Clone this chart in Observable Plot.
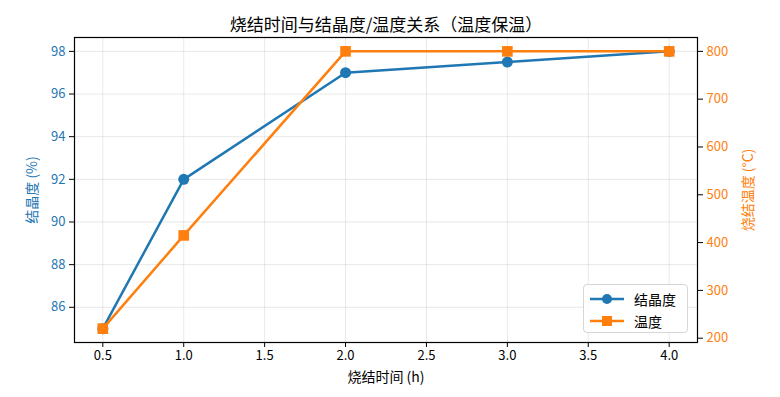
<!DOCTYPE html>
<html><head><meta charset="utf-8">
<script src="https://cdn.jsdelivr.net/npm/d3@7"></script>
<script src="https://cdn.jsdelivr.net/npm/@observablehq/plot@0.6"></script>
<style>
body{margin:0;background:#fff;font-family:"Noto Sans CJK SC",sans-serif}
#wrap{position:relative;width:780px;height:397px}
#legend{position:absolute;left:583px;top:284px;width:105px;height:49px;box-sizing:border-box;border:1px solid #d6d6d6;border-radius:4px;background:rgba(255,255,255,0.85);font-size:14px;color:#000}
#legend .row{display:flex;align-items:center;height:22px;padding-left:6px}
#legend .row:first-child{margin-top:3px}
#legend svg{margin-right:10px}
</style>
</head><body><div id="wrap"></div>
<script>
const titleText = "烧结时间与结晶度/温度关系（温度保温）";
const xLabel = "烧结时间 (h)";
const leftLabel = "结晶度 (%)";
const rightLabel = "烧结温度 (°C)";
const seriesNames = ["结晶度", "温度"];
const times = [0.5, 1.0, 2.0, 3.0, 4.0];
const crystallinity = [85, 92, 97, 97.5, 98];
const temperature = [220, 415, 800, 800, 800];
const xTicks = [0.5, 1.0, 1.5, 2.0, 2.5, 3.0, 3.5, 4.0];
const leftTicks = [86, 88, 90, 92, 94, 96, 98];
const rightTicks = [200, 300, 400, 500, 600, 700, 800];

const blue = "#1f77b4", orange = "#ff7f0e";
const cDom = [84.35, 98.65], tDom = [191, 829];
const toC = t => cDom[0] + (t - tDom[0]) * (cDom[1] - cDom[0]) / (tDom[1] - tDom[0]);
const fromC = c => tDom[0] + (c - cDom[0]) * (tDom[1] - tDom[0]) / (cDom[1] - cDom[0]);

const cData = times.map((x, i) => ({x, y: crystallinity[i]}));
const tData = times.map((x, i) => ({x, y: toC(temperature[i])}));

const chart = Plot.plot({
  width: 780, height: 397,
  marginLeft: 74, marginRight: 83, marginTop: 37, marginBottom: 55,
  style: {fontFamily: '"Noto Sans CJK SC", sans-serif', fontSize: "13px", background: "#fff"},
  x: {domain: [0.325, 4.175]},
  y: {domain: cDom},
  marks: [
    Plot.gridX(xTicks, {stroke: "#b0b0b0", strokeOpacity: 0.35, strokeWidth: 0.8}),
    Plot.gridY(leftTicks, {stroke: "#b0b0b0", strokeOpacity: 0.35, strokeWidth: 0.8}),
    Plot.frame({stroke: "#000", strokeWidth: 1.2}),
    Plot.axisX(xTicks, {tickFormat: d => d.toFixed(1), tickSize: 5, tickPadding: 3, fontSize: 13, label: null}),
    Plot.axisY(leftTicks, {anchor: "left", tickSize: 5, tickPadding: 4, fontSize: 13, fill: blue, label: null}),
    Plot.axisY(rightTicks.map(toC), {anchor: "right", tickSize: 5, tickPadding: 4, fontSize: 13, fill: orange, label: null, tickFormat: d => String(Math.round(fromC(d)))}),
    Plot.line(cData, {x: "x", y: "y", stroke: blue, strokeWidth: 2.5}),
    Plot.dot(cData, {x: "x", y: "y", r: 5.5, fill: blue, stroke: "none"}),
    Plot.line(tData, {x: "x", y: "y", stroke: orange, strokeWidth: 2.5}),
    Plot.dot(tData, {x: "x", y: "y", r: 6, symbol: "square", fill: orange, stroke: "none"}),
    Plot.text([titleText], {frameAnchor: "top", dy: -19, fontSize: 17, fill: "#000"}),
    Plot.text([xLabel], {frameAnchor: "bottom", dy: 39, fontSize: 14, fill: "#000"}),
    Plot.text([leftLabel], {frameAnchor: "left", textAnchor: "middle", dx: -42, rotate: -90, fontSize: 14, fill: blue}),
    Plot.text([rightLabel], {frameAnchor: "right", textAnchor: "middle", dx: 51, rotate: -90, fontSize: 14, fill: orange})
  ]
});
const wrap = document.getElementById("wrap");
wrap.appendChild(chart);

const legend = document.createElement("div");
legend.id = "legend";
const colors = [blue, orange];
seriesNames.forEach((name, i) => {
  const row = document.createElement("div");
  row.className = "row";
  const marker = i === 0
    ? `<circle cx="17" cy="6" r="5" fill="${colors[i]}"/>`
    : `<rect x="12" y="1" width="10" height="10" fill="${colors[i]}"/>`;
  row.innerHTML = `<svg width="34" height="12"><line x1="0" y1="6" x2="34" y2="6" stroke="${colors[i]}" stroke-width="2.5"/>${marker}</svg><span>${name}</span>`;
  legend.appendChild(row);
});
wrap.appendChild(legend);
</script>
</body></html>
